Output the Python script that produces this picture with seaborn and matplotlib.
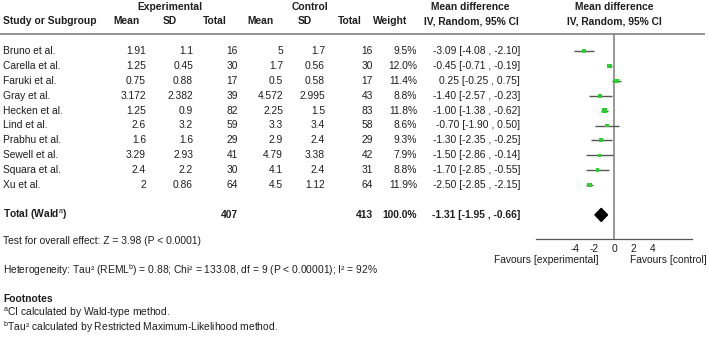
import matplotlib
matplotlib.use("Agg")
import matplotlib.pyplot as plt
import seaborn as sns
import pandas as pd
import numpy as np

# ---------------- data ----------------
studies = ["Bruno et al.", "Carella et al.", "Faruki et al.", "Gray et al.", "Hecken et al.",
           "Lind et al.", "Prabhu et al.", "Sewell et al.", "Squara et al.", "Xu et al."]
exp_mean = [1.91, 1.25, 0.75, 3.172, 1.25, 2.6, 1.6, 3.29, 2.4, 2]
exp_sd = [1.1, 0.45, 0.88, 2.382, 0.9, 3.2, 1.6, 2.93, 2.2, 0.86]
exp_n = [16, 30, 17, 39, 82, 59, 29, 41, 30, 64]
ctl_mean = [5, 1.7, 0.5, 4.572, 2.25, 3.3, 2.9, 4.79, 4.1, 4.5]
ctl_sd = [1.7, 0.56, 0.58, 2.995, 1.5, 3.4, 2.4, 3.38, 2.4, 1.12]
ctl_n = [16, 30, 17, 43, 83, 58, 29, 42, 31, 64]
weight = [9.5, 12.0, 11.4, 8.8, 11.8, 8.6, 9.3, 7.9, 8.8, 11.9]
md = [-3.09, -0.45, 0.25, -1.40, -1.00, -0.70, -1.30, -1.50, -1.70, -2.50]
ci_lo = [-4.08, -0.71, -0.25, -2.57, -1.38, -1.90, -2.35, -2.86, -2.85, -2.85]
ci_hi = [-2.10, -0.19, 0.75, -0.23, -0.62, 0.50, -0.25, -0.14, -0.55, -2.15]
total_exp_n = 407
total_ctl_n = 413
total_weight = 100.0
total_md = -1.31
total_lo = -1.95
total_hi = -0.66
x_ticks = [-4, -2, 0, 2, 4]

# ---------------- style ----------------
sns.set_style("white")
plt.rcParams["font.family"] = ["Liberation Sans", "DejaVu Sans"]
plt.rcParams["mathtext.fontset"] = "custom"
plt.rcParams["mathtext.rm"] = "Liberation Sans"
plt.rcParams["mathtext.bf"] = "Liberation Sans:bold"
plt.rcParams["mathtext.it"] = "Liberation Sans:italic"

TXT = "#1e1e1e"
FS = 7.4
W, H = 709, 342
ROW0, STEP = 51.0, 14.9

fig = plt.figure(figsize=(W / 100, H / 100), dpi=100)

# text layer in pixel coordinates
tax = fig.add_axes([0, 0, 1, 1])
tax.set_xlim(0, W)
tax.set_ylim(H, 0)
tax.axis("off")


def t(x, y, s, ha="left", bold=False, size=FS, color=TXT):
    tax.text(x, y, s, ha=ha, va="center", fontsize=size,
             fontweight="bold" if bold else "normal", color=color)


def ry(i):
    return ROW0 + STEP * i


# headers
t(170, 7, "Experimental", ha="center", bold=True)
t(310, 7, "Control", ha="center", bold=True)
t(470, 7, "Mean difference", ha="center", bold=True)
t(614, 7, "Mean difference", ha="center", bold=True)
t(3, 21, "Study or Subgroup", bold=True)
t(127, 21, "Mean", ha="center", bold=True)
t(170, 21, "SD", ha="center", bold=True)
t(215, 21, "Total", ha="center", bold=True)
t(260, 21, "Mean", ha="center", bold=True)
t(305, 21, "SD", ha="center", bold=True)
t(350, 21, "Total", ha="center", bold=True)
t(390, 21, "Weight", ha="center", bold=True)
t(471, 21, "IV, Random, 95% CI", ha="center", bold=True)
t(614, 21, "IV, Random, 95% CI", ha="center", bold=True)
tax.hlines(33.5, 0, 705, color="#8a8a8a", lw=1.3)

# study rows
for i, s in enumerate(studies):
    y = ry(i)
    t(3, y, s)
    t(146, y, f"{exp_mean[i]:g}", ha="right")
    t(193, y, f"{exp_sd[i]:g}", ha="right")
    t(238, y, f"{exp_n[i]}", ha="right")
    t(283, y, f"{ctl_mean[i]:g}", ha="right")
    t(325, y, f"{ctl_sd[i]:g}", ha="right")
    t(373, y, f"{ctl_n[i]}", ha="right")
    t(417, y, f"{weight[i]:.1f}%", ha="right")
    t(520, y, f"{md[i]:.2f} [{ci_lo[i]:.2f} , {ci_hi[i]:.2f}]", ha="right")

# total row
yt = ry(11)
t(3, yt, r"Total (Wald$^{\mathrm{a}}$)", bold=True)
t(238, yt, f"{total_exp_n}", ha="right", bold=True)
t(373, yt, f"{total_ctl_n}", ha="right", bold=True)
t(417, yt, f"{total_weight:.1f}%", ha="right", bold=True)
t(520, yt, f"{total_md:.2f} [{total_lo:.2f} , {total_hi:.2f}]", ha="right", bold=True)

# bottom notes
t(3, 241, "Test for overall effect: Z = 3.98 (P < 0.0001)")
t(3, 270, r"Heterogeneity: Tau² (REML$^{\mathrm{b}}$) = 0.88; Chi² = 133.08, df = 9 (P < 0.00001); I² = 92%")
t(3, 299, "Footnotes", bold=True)
t(3, 313, r"$^{\mathrm{a}}$CI calculated by Wald-type method.")
t(3, 327, r"$^{\mathrm{b}}$Tau² calculated by Restricted Maximum-Likelihood method.")

# ---------------- forest panel ----------------
left_px, right_px, top_px, bot_px = 536, 692, 34, 239
fax = fig.add_axes([left_px / W, 1 - bot_px / H, (right_px - left_px) / W, (bot_px - top_px) / H])
fax.set_facecolor("none")
fax.set_xlim(-8, 8)
fax.set_ylim((bot_px - ROW0) / STEP, (top_px - ROW0) / STEP)

df = pd.DataFrame({"row": np.arange(len(studies)), "md": md, "lo": ci_lo,
                   "hi": ci_hi, "w": weight})
fax.hlines(df["row"], df["lo"], df["hi"], color="#555555", lw=1.0, zorder=2)
sns.scatterplot(data=df, x="md", y="row", size="w", sizes=(6, 11), marker="s",
                color="#2ecc2e", edgecolor="none", legend=False, ax=fax, zorder=3)

# diamond
dh = 0.44
fax.fill([total_lo, total_md, total_hi, total_md], [11, 11 - dh, 11, 11 + dh],
         color="black", zorder=3)

fax.axvline(0, color="#7a7a7a", lw=1.1, zorder=1)
for sp in ["top", "left", "right"]:
    fax.spines[sp].set_visible(False)
fax.spines["bottom"].set_color("#555555")
fax.spines["bottom"].set_linewidth(0.9)
fax.set_xticks(x_ticks)
fax.set_xticklabels([str(v) for v in x_ticks], fontsize=FS, color=TXT)
fax.tick_params(axis="x", direction="inout", length=5, width=0.8, color="#555555", pad=1)
fax.set_yticks([])
fax.set_xlabel("")
fax.set_ylabel("")

t(546, 260, "Favours [experimental]", ha="center")
t(668, 260, "Favours [control]", ha="center")

fig.savefig("out.png", dpi=100)
